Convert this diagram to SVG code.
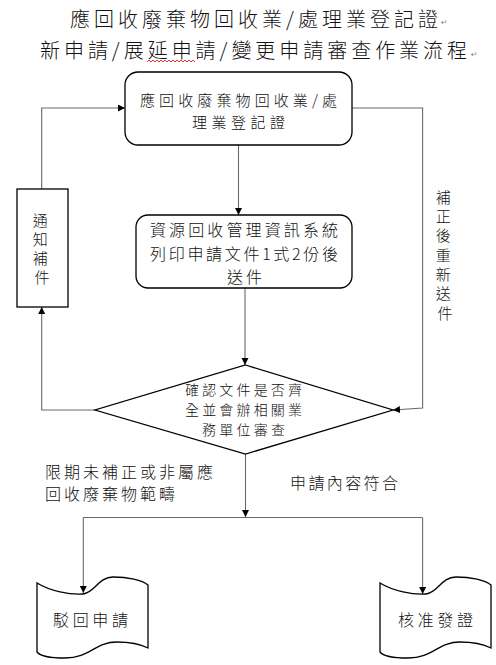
<svg xmlns="http://www.w3.org/2000/svg" xmlns:xlink="http://www.w3.org/1999/xlink" width="496" height="665" viewBox="0 0 496 665">
<style>
.t{font-family:"Noto Sans CJK TC","Noto Sans CJK SC",sans-serif;font-weight:300;fill:#111;}
.title{font-size:20px;}
.n15{font-size:15px;}
.n16{font-size:16px;}
.n14{font-size:14px;}
.shape{fill:#fff;stroke:#000;stroke-width:1.3;}
.conn{fill:none;stroke:#6a6a6a;stroke-width:1.1;}
.pm{font-family:"DejaVu Sans",sans-serif;font-size:8px;fill:#888;}
</style>
<defs>
<marker id="arr" markerUnits="userSpaceOnUse" markerWidth="8" markerHeight="8" refX="7" refY="3.5" orient="auto">
<path d="M0,0 L7,3.5 L0,7 Z" fill="#000"/>
</marker>
<path id="tape" d="M0,0 C13,8 33,12 46,11 C58,10 61,-6 76,-6 C91,-6 105,-3 111,2 L111,65 C103,61 91,59 80,59 C58,59 53,75 28,75 C13,75 3,73 0,69 Z"/>
</defs>

<g id="title">
<text class="t title" x="70" y="26.6" textLength="368" lengthAdjust="spacing">應回收廢棄物回收業/處理業登記證</text>
<text class="pm" x="441" y="25">↵</text>
<text class="t title" x="40" y="57.6" textLength="427" lengthAdjust="spacing">新申請/展延申請/變更申請審查作業流程</text>
<text class="pm" x="471" y="57">↵</text>
<path d="M147,62 l2,-2 l2,2 l2,-2 l2,2 l2,-2 l2,2 l2,-2 l2,2 l2,-2 l2,2 l2,-2 l2,2 l2,-2 l2,2 l2,-2 l2,2 l2,-2 l2,2 l2,-2 l2,2 l2,-2 l2,2 l2,-2 l2,2" fill="none" stroke="#d00" stroke-width="0.8"/>
</g>

<g id="connectors">
<path class="conn" d="M238.5,145 L238.5,215" marker-end="url(#arr)"/>
<path class="conn" d="M245,288 L245,365" marker-end="url(#arr)"/>
<path class="conn" d="M95,410 L41.7,410 L41.7,307" marker-end="url(#arr)"/>
<path class="conn" d="M41.7,189 L41.7,108 L125,108" marker-end="url(#arr)"/>
<path class="conn" d="M352,108 L422.6,108 L422.6,408 L393,410" marker-end="url(#arr)"/>
<path class="conn" d="M245.5,454 L245.5,517" marker-end="url(#arr)"/>
<path class="conn" d="M83.3,517.5 L422.6,517.5"/>
<path class="conn" d="M83.3,517.5 L83.3,593" marker-end="url(#arr)"/>
<path class="conn" d="M422.6,517.5 L422.6,594" marker-end="url(#arr)"/>
</g>

<g id="node-register">
<rect class="shape" x="125" y="72" width="227" height="73" rx="13" ry="13"/>
<text class="t n15" x="140" y="105.7" textLength="197" lengthAdjust="spacing">應回收廢棄物回收業/處</text>
<text class="t n15" x="192" y="127.7" textLength="93" lengthAdjust="spacing">理業登記證</text>
</g>

<g id="node-print">
<rect class="shape" x="136" y="215" width="216" height="73" rx="12" ry="12"/>
<text class="t n16" x="150" y="236" textLength="188" lengthAdjust="spacing">資源回收管理資訊系統</text>
<text class="t n16" x="150" y="260" textLength="188" lengthAdjust="spacing">列印申請文件1式2份後</text>
<text class="t n16" x="227" y="283" textLength="35" lengthAdjust="spacing">送件</text>
</g>

<g id="node-notify">
<rect class="shape" x="17" y="189" width="51" height="118"/>
<text class="t n15" text-anchor="middle">
<tspan x="42" y="225.7">通</tspan>
<tspan x="42" y="244.7">知</tspan>
<tspan x="42" y="263.7">補</tspan>
<tspan x="42" y="282.7">件</tspan>
</text>
</g>

<g id="node-review">
<polygon class="shape" points="245.5,365 393,410 245.5,454 95,410"/>
<text class="t n14" x="185" y="395" textLength="117" lengthAdjust="spacing">確認文件是否齊</text>
<text class="t n14" x="185" y="415" textLength="117" lengthAdjust="spacing">全並會辦相關業</text>
<text class="t n14" x="202" y="435" textLength="83" lengthAdjust="spacing">務單位審查</text>
</g>

<g id="label-resubmit">
<text class="t n15" text-anchor="middle">
<tspan x="445" y="202.7">補</tspan>
<tspan x="445" y="222">正</tspan>
<tspan x="445" y="241.3">後</tspan>
<tspan x="445" y="260.6">重</tspan>
<tspan x="445" y="279.9">新</tspan>
<tspan x="445" y="299.2">送</tspan>
<tspan x="445" y="318.5">件</tspan>
</text>
</g>

<g id="label-reject">
<text class="t n16" x="45" y="478" textLength="168" lengthAdjust="spacing">限期未補正或非屬應</text>
<text class="t n16" x="45" y="500" textLength="130" lengthAdjust="spacing">回收廢棄物範疇</text>
</g>

<g id="label-approve">
<text class="t n16" x="290" y="489" textLength="108" lengthAdjust="spacing">申請內容符合</text>
</g>

<g id="node-rejected">
<use xlink:href="#tape" href="#tape" class="shape" transform="translate(37,583)"/>
<text class="t n16" x="53" y="626" textLength="75" lengthAdjust="spacing">駁回申請</text>
</g>

<g id="node-approved">
<use xlink:href="#tape" href="#tape" class="shape" transform="translate(380,583)"/>
<text class="t n16" x="398" y="626" textLength="75" lengthAdjust="spacing">核准發證</text>
</g>
</svg>
